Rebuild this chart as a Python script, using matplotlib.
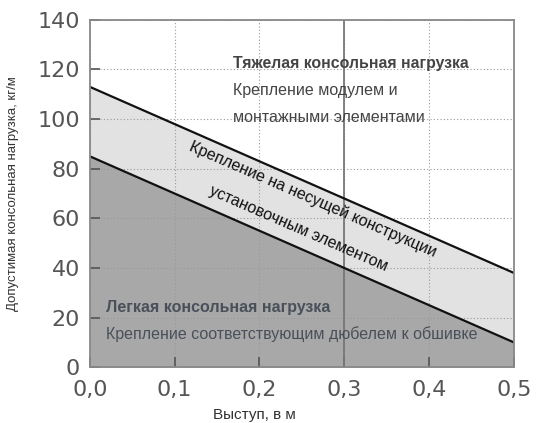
import numpy as np
import matplotlib.pyplot as plt

plt.rcParams['font.family'] = ['Liberation Sans', 'DejaVu Sans']

# load limits along the overhang
overhang = [0.0, 0.5]
light_limit = [85, 10]      # upper edge of light load zone, kg/m
support_limit = [113, 38]   # upper edge of load-bearing mounting zone, kg/m
x_ticks = [0.0, 0.1, 0.2, 0.3, 0.4, 0.5]
x_labels = ['0,0', '0,1', '0,2', '0,3', '0,4', '0,5']
y_ticks = [0, 20, 40, 60, 80, 100, 120, 140]
marker_x = 0.3

fig = plt.figure(figsize=(5.38, 4.23), dpi=100)
ax = fig.add_axes([0.167, 0.132, 0.788, 0.821])

ax.fill_between(overhang, 0, light_limit, color='#a8a8a8', lw=0, zorder=1)
ax.fill_between(overhang, light_limit, support_limit, color='#e2e2e2', lw=0, zorder=1)
ax.plot(overhang, light_limit, color='#111111', lw=1.6, zorder=4)
ax.plot(overhang, support_limit, color='#111111', lw=1.6, zorder=4)
ax.axvline(marker_x, color='#777777', lw=1.3, zorder=3)

ax.set_xlim(0, 0.5)
ax.set_ylim(0, 140)
ax.set_xticks(x_ticks)
ax.set_xticklabels(x_labels)
ax.set_yticks(y_ticks)
ax.grid(True, ls=(0, (1, 2)), color='#999999', lw=0.8, zorder=2)
ax.set_axisbelow(False)
for s in ax.spines.values():
    s.set_color('#888888')
    s.set_linewidth(1.3)
    s.set_zorder(5)
ax.tick_params(direction='in', length=7, width=1.2, color='#555555',
               labelsize=16, labelcolor='#555555')
ax.tick_params(axis='x', pad=9)
ax.tick_params(axis='y', pad=7)
for lab in ax.get_xticklabels() + ax.get_yticklabels():
    lab.set_family('DejaVu Sans')

ax.set_xlabel('Выступ, в м', fontsize=11, color='#333333', labelpad=8)
ax.xaxis.set_label_coords(0.389, -0.118)
ax.set_ylabel('Допустимая консольная нагрузка, кг/м', fontsize=9.5,
              color='#333333', labelpad=13)

ax.text(0.169, 122.6, 'Тяжелая консольная нагрузка', fontsize=11.4, weight='bold',
        color='#444444', va='center', zorder=6)
ax.text(0.169, 111.7, 'Крепление модулем и', fontsize=11.5, color='#444444',
        va='center', zorder=6)
ax.text(0.169, 100.8, 'монтажными элементами', fontsize=11.5, color='#444444',
        va='center', zorder=6)

ax.text(0.019, 24, 'Легкая консольная нагрузка', fontsize=11.5, weight='bold',
        color='#4a505a', va='center', zorder=6)
ax.text(0.019, 13.5, 'Крепление соответствующим дюбелем к обшивке', fontsize=11.5,
        color='#4a505a', va='center', zorder=6)

ax.text(0.263, 67.5, 'Крепление на несущей конструкции', fontsize=11.5,
        color='#111111', rotation=-23.5, rotation_mode='anchor',
        ha='center', va='center', zorder=6)
ax.text(0.246, 56, 'установочным элементом', fontsize=11.5,
        color='#111111', rotation=-23.5, rotation_mode='anchor',
        ha='center', va='center', zorder=6)

fig.savefig('out.png', dpi=100)
